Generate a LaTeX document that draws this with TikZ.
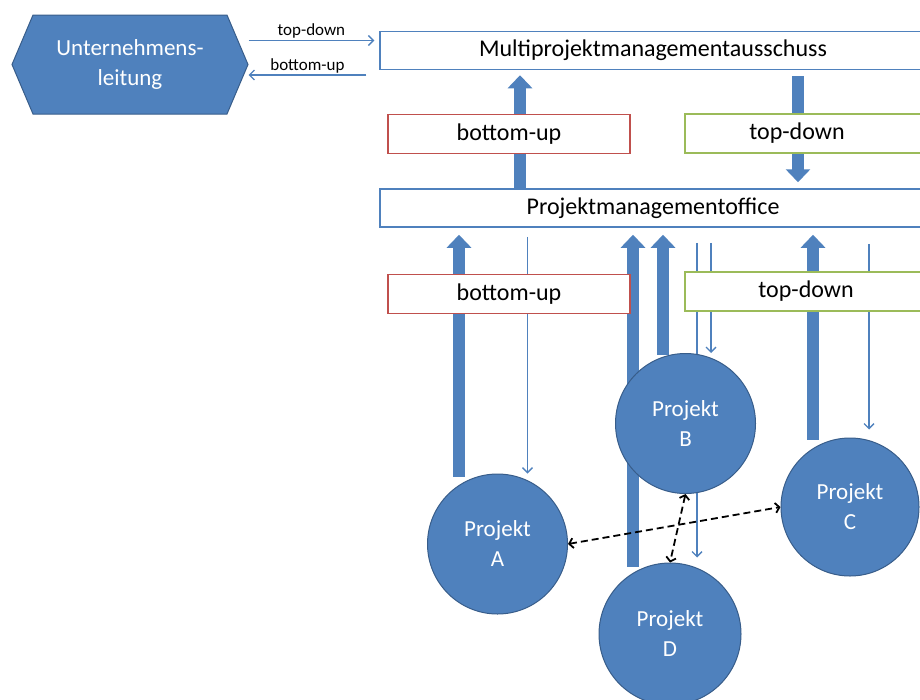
\documentclass[tikz,border=0pt]{standalone}
\usepackage{fontspec}
\setmainfont{Carlito}
\usetikzlibrary{calc, arrows.meta, shapes.symbols, backgrounds}

\definecolor{ofblue}{RGB}{79,129,189}
\definecolor{ofdark}{RGB}{56,93,138}
\definecolor{ofred}{RGB}{192,80,77}
\definecolor{ofgreen}{RGB}{155,187,89}

\tikzset{
  panel/.style={draw=ofblue, line width=1.5pt, fill=white, minimum width=546pt,
    minimum height=38pt, inner sep=0pt, font=\fontsize{24}{28}\selectfont},
  flowbox/.style={draw=#1, line width=1.5pt, fill=white, minimum width=242pt,
    minimum height=39pt, inner sep=0pt, font=\fontsize{24}{28}\selectfont},
  projekt/.style={circle, draw=ofdark, line width=1pt, fill=ofblue, text=white,
    minimum size=140pt, inner sep=0pt, align=center, font=\fontsize{23}{30}\selectfont},
  hexa/.style={signal, signal to=east and west, signal pointer angle=134,
    draw=ofdark, line width=1pt, fill=ofblue, text=white, minimum width=236pt,
    minimum height=99pt, inner sep=0pt, align=center, font=\fontsize{23}{30}\selectfont},
  blockarrow/.style={ofblue, line width=12pt, -{Triangle[length=13pt, width=24pt]}},
  thinarrow/.style={ofblue, line width=1.3pt, -{Straight Barb[length=5pt, width=10pt]}},
  dashlink/.style={black, line width=1.8pt, dash pattern=on 7pt off 4pt,
    {Straight Barb[length=4pt, width=10pt]}-{Straight Barb[length=4pt, width=10pt]}},
  smalllabel/.style={text=black, font=\fontsize{17}{19}\selectfont, inner sep=1.5pt}
}

\begin{document}
\begin{tikzpicture}[x=1pt,y=-1pt]
\path[use as bounding box, clip] (0,0) rectangle (920,699);

% Leitung and committees
\node[hexa] (ul) at (130,64.5) {Unternehmens-\\leitung};
\node[panel] (mpa) at (653,50.5) {Multiprojektmanagementausschuss};
\node[panel] (pmo) at (653,208) {Projektmanagementoffice};

% Direction boxes
\node[flowbox=ofred] (bu1) at (509,134) {bottom-up};
\node[flowbox=ofgreen] (td1) at (806,133.5) {\hspace*{-18pt}top-down};
\node[flowbox=ofred] (bu2) at (509,294) {bottom-up};
\node[flowbox=ofgreen] (td2) at (806,291.5) {top-down};

% Projects
\node[projekt] (A) at (497.5,544) {Projekt\\A};
\node[projekt] (B) at (685.5,423.5) {Projekt\\B};
\node[projekt, minimum size=138pt] (C) at (850,507) {Projekt\\C};
\node[projekt, minimum size=142pt] (D) at (670,634) {Projekt\\D};

% Flows, behind boxes and projects
\begin{scope}[on background layer]
  \draw[thinarrow] (ul.east |- 0,40.5) -- ($(mpa.west |- 0,40.5)+(-5,0)$)
    node[midway, above, smalllabel] {top-down};
  \draw[thinarrow] ($(mpa.west |- 0,75)+(-13,0)$) -- (ul.east |- 0,75)
    node[midway, above, smalllabel] {bottom-up};

  \draw[blockarrow] ($(pmo.north)+(-133,0)$) -- ($(mpa.south)+(-133,5)$);
  \draw[blockarrow] ($(mpa.south)+(145,6)$) -- ($(pmo.north)+(145,-6)$);

  \foreach \p/\dx/\dy in {A/-38.5/3, B/-22.5/1.5, C/-37/2, D/-37/4}{
    \draw[blockarrow] ($(\p.north)+(\dx,\dy)$) -- ($(\p.north |- pmo.south)+(\dx,7)$);
  }
  \foreach \p/\dx/\dy/\s in {A/30/0/9, B/25.5/0/15, C/19/-8/16, D/27/-5/15}{
    \draw[thinarrow] ($(\p.north |- pmo.south)+(\dx,\s)$) -- ($(\p.north)+(\dx,\dy)$);
  }
\end{scope}

% Exchange between projects
\draw[dashlink] (A.east) -- (C.west);
\draw[dashlink] (B.south) -- (D.north);
\end{tikzpicture}
\end{document}
